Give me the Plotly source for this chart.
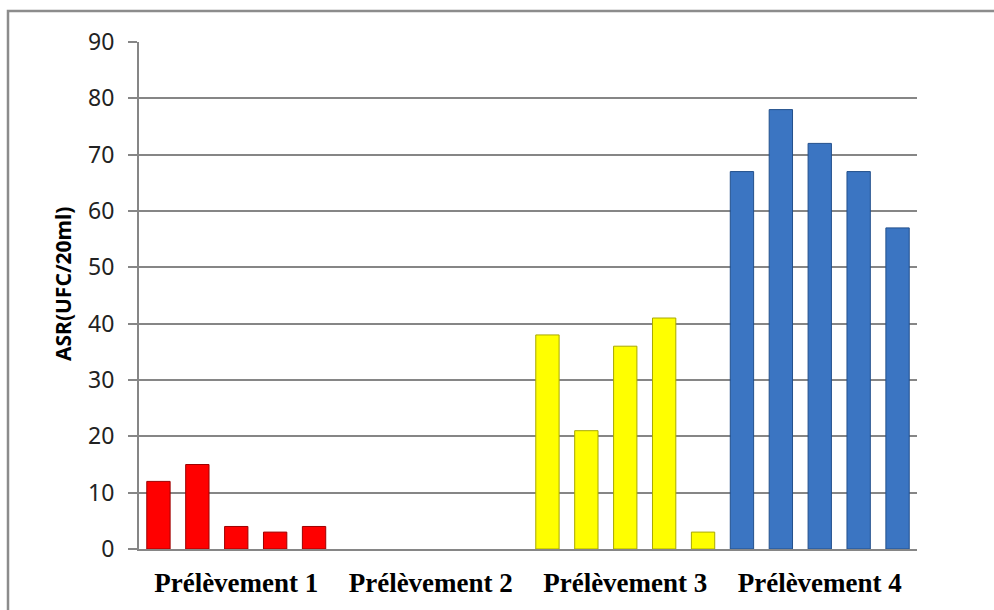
import plotly.graph_objects as go

categories = ["Prélèvement 1", "Prélèvement 2", "Prélèvement 3", "Prélèvement 4"]
serie1 = [12, 0, 38, 67]
serie2 = [15, 0, 21, 78]
serie3 = [4, 0, 36, 72]
serie4 = [3, 0, 41, 67]
serie5 = [4, 0, 3, 57]
series = [serie1, serie2, serie3, serie4, serie5]

fill_colors = ["#FF0000", "#FF0000", "#FFFF00", "#3B75C2"]
edge_colors = ["#9E0000", "#9E0000", "#A8A800", "#23508C"]
edge_widths = [1, 0, 1, 1]

W, H = 994, 610
L, R, T, B = 139, 77, 42, 61
pw, ph = W - L - R, H - T - B

fig = go.Figure()
for i, s in enumerate(series):
    fig.add_trace(go.Bar(
        x=categories, y=s, name=f"Série {i+1}",
        marker=dict(color=fill_colors, line=dict(color=edge_colors, width=edge_widths)),
        showlegend=False,
    ))

grid = "#868686"
fig.update_layout(
    width=W, height=H,
    margin=dict(l=L, r=R, t=T, b=B),
    paper_bgcolor="white", plot_bgcolor="white",
    barmode="group", bargap=0.0, bargroupgap=0.4,
    xaxis=dict(
        automargin=False,
        showgrid=False, showline=True, linecolor=grid, linewidth=2,
        ticks="", ticklabelstandoff=9,
        tickfont=dict(family="Liberation Serif", size=27, color="black", weight="bold"),
    ),
    yaxis=dict(
        automargin=False,
        range=[0, 90], dtick=10, tick0=0,
        showgrid=True, gridcolor=grid, gridwidth=2,
        showline=True, linecolor=grid, linewidth=2,
        ticks="outside", ticklen=9, tickwidth=2, tickcolor=grid,
        ticklabelstandoff=9,
        tickfont=dict(family="Noto Sans", size=23, color="#222222"),
        zeroline=False,
    ),
    annotations=[dict(
        text="<b>ASR(UFC/20ml)</b>", textangle=-90,
        xref="paper", yref="paper",
        x=(63 - L) / pw, y=(H - B - 284) / ph,
        xanchor="center", yanchor="middle", showarrow=False,
        font=dict(family="Noto Sans", size=21, color="black"),
    )],
    shapes=[dict(
        type="rect", xref="paper", yref="paper",
        x0=(8 - L) / pw, x1=(1005 - L) / pw,
        y0=(H - B - 625) / ph, y1=(H - B - 11) / ph,
        line=dict(color="#8C8C8C", width=2.5), fillcolor="rgba(0,0,0,0)", layer="below",
    )],
)

fig.write_html("out.html")
